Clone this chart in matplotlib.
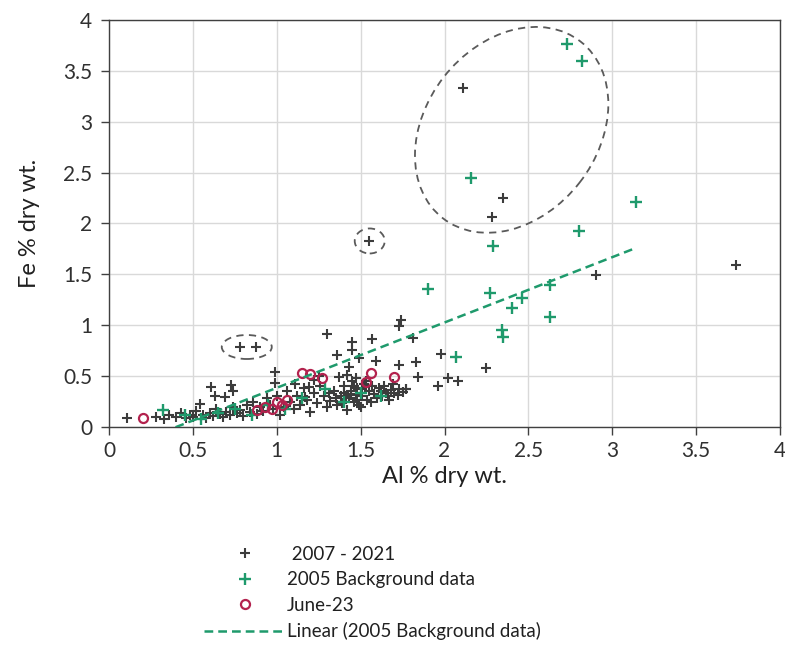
import matplotlib
matplotlib.use("Agg")
import matplotlib.pyplot as plt
import numpy as np
from matplotlib.patches import Ellipse
from matplotlib.transforms import ScaledTranslation

plt.rcParams['font.family'] = ['Lato', 'DejaVu Sans']

# ---- data ----
black_x = [2.11, 2.35, 2.28, 1.55, 3.74, 2.90, 0.78, 0.875,
           2.25, 2.08, 2.02, 1.96, 1.98,
           1.30, 1.74, 1.73, 1.45, 1.45, 1.57, 1.81, 1.36, 1.49, 1.59, 1.73, 1.83, 1.84, 1.43, 1.42, 1.37, 1.77,
           0.99, 0.99, 0.61, 0.73, 0.74, 0.69, 0.63, 0.54, 1.19, 0.11,
           0.28, 0.33, 0.36, 0.40, 0.43, 0.46, 0.48, 0.50, 0.52, 0.56, 0.58, 0.60, 0.62, 0.64, 0.66, 0.68,
           0.70, 0.72, 0.74, 0.76, 0.78, 0.80, 0.82, 0.84, 0.86, 0.88, 0.90, 0.92, 0.94, 0.96, 0.98,
           1.00, 1.02, 1.04, 1.06, 1.08, 1.10, 1.12, 1.14, 1.16, 1.18, 1.20, 1.22, 1.24, 1.26, 1.28,
           1.30, 1.32, 1.34, 1.36, 1.38, 1.40, 1.42, 1.43, 1.44, 1.45, 1.46, 1.47, 1.48, 1.49, 1.50,
           1.51, 1.52, 1.54, 1.55, 1.56, 1.58, 1.60, 1.62, 1.63, 1.65, 1.66, 1.68, 1.70, 1.72, 1.73,
           1.75, 1.77, 1.53, 1.47, 1.41, 1.39, 1.64, 1.69, 1.22, 1.17, 1.25, 1.11,
           1.44, 1.48, 1.46, 1.51, 1.35, 1.57, 1.61, 1.67, 1.40, 1.31]
black_y = [3.33, 2.25, 2.06, 1.83, 1.59, 1.49, 0.79, 0.79,
           0.58, 0.45, 0.48, 0.40, 0.72,
           0.91, 1.05, 0.99, 0.84, 0.76, 0.86, 0.87, 0.71, 0.68, 0.65, 0.61, 0.64, 0.49, 0.59, 0.51, 0.49, 0.37,
           0.54, 0.43, 0.39, 0.41, 0.35, 0.29, 0.30, 0.23, 0.39, 0.09,
           0.10, 0.08, 0.12, 0.10, 0.14, 0.09, 0.12, 0.10, 0.16, 0.12, 0.09, 0.14, 0.11, 0.18, 0.13, 0.10,
           0.15, 0.12, 0.20, 0.14, 0.17, 0.11, 0.22, 0.15, 0.25, 0.13, 0.20, 0.16, 0.28, 0.22, 0.18,
           0.30, 0.12, 0.20, 0.35, 0.25, 0.18, 0.30, 0.22, 0.38, 0.27, 0.15, 0.33, 0.24, 0.40, 0.30,
           0.20, 0.26, 0.35, 0.22, 0.30, 0.40, 0.17, 0.28, 0.35, 0.45, 0.25, 0.32, 0.38, 0.22, 0.20,
           0.30, 0.42, 0.27, 0.35, 0.25, 0.32, 0.28, 0.35, 0.30, 0.33, 0.30, 0.36, 0.33, 0.31, 0.37,
           0.34, 0.37, 0.45, 0.48, 0.30, 0.24, 0.40, 0.42, 0.46, 0.29, 0.50, 0.42,
           0.31, 0.27, 0.40, 0.37, 0.28, 0.40, 0.38, 0.27, 0.33, 0.33]

green_x = [2.73, 2.82, 2.155, 3.14, 2.29, 2.80, 1.90, 2.27, 2.46, 2.40, 2.63, 2.63, 2.34, 2.35, 2.07,
           0.32, 0.45, 0.55, 0.65, 0.75, 0.85, 0.95, 1.05, 1.15, 1.29, 1.40, 1.50, 1.62]
green_y = [3.76, 3.60, 2.45, 2.21, 1.78, 1.93, 1.36, 1.32, 1.27, 1.17, 1.40, 1.08, 0.95, 0.88, 0.69,
           0.17, 0.12, 0.08, 0.14, 0.18, 0.12, 0.22, 0.18, 0.28, 0.37, 0.25, 0.33, 0.30]

red_x = [0.20, 0.88, 0.93, 0.97, 1.00, 1.03, 1.06, 1.15, 1.20, 1.27, 1.53, 1.56, 1.70]
red_y = [0.09, 0.17, 0.20, 0.18, 0.25, 0.22, 0.27, 0.53, 0.52, 0.48, 0.44, 0.53, 0.49]

# linear trendline of the 2005 background data (slope / intercept)
trend_slope = 0.642
trend_intercept = -0.257

ticks = [0, 0.5, 1, 1.5, 2, 2.5, 3, 3.5, 4]
tick_labels = ['0', '0.5', '1', '1.5', '2', '2.5', '3', '3.5', '4']

# ---- figure ----
fig = plt.figure(figsize=(7.85, 6.5), dpi=100)
ax = fig.add_axes([0.1389, 0.3431, 0.8548, 0.6262])

c_black = '#3c3c3c'
c_green = '#1f9a6c'
c_red = '#b3224e'

ax.plot(black_x, black_y, linestyle='none', marker='+', color=c_black,
        markersize=7, markeredgewidth=1.5, label=' 2007 - 2021', zorder=3)
ax.plot(green_x, green_y, linestyle='none', marker='+', color=c_green,
        markersize=8, markeredgewidth=1.7, label='2005 Background data', zorder=4)
ax.plot(red_x, red_y, linestyle='none', marker='o', markerfacecolor='none',
        markeredgecolor=c_red, markersize=6.5, markeredgewidth=1.6, label='June-23', zorder=5)

tx = np.array([min(green_x), max(green_x)])
ax.plot(tx, trend_slope * tx + trend_intercept, linestyle=(0, (3.5, 2)), color=c_green,
        linewidth=1.8, label='Linear (2005 Background data)', zorder=6)

# dashed highlight ellipses (centre in data units, size in inches)
def ring(cx, cy, w, h, ang):
    e = Ellipse((0, 0), w, h, angle=ang, fill=False, edgecolor='#5a5a5a',
                linestyle=(0, (4, 3)), linewidth=1.3,
                transform=fig.dpi_scale_trans + ScaledTranslation(cx, cy, ax.transData),
                zorder=7)
    ax.add_patch(e)

ring(2.40, 2.92, 2.24, 1.72, 52)
ring(1.554, 1.828, 0.30, 0.25, 0)
ring(0.821, 0.786, 0.50, 0.24, 0)

ax.set_xlim(0, 4)
ax.set_ylim(0, 4)
ax.set_xticks(ticks)
ax.set_xticklabels(tick_labels)
ax.set_yticks(ticks)
ax.set_yticklabels(tick_labels)
ax.grid(True, color='#d9d9d9', linewidth=1.0, zorder=0)
ax.set_axisbelow(True)
for s in ax.spines.values():
    s.set_color('#404040')
    s.set_linewidth(1.0)
ax.tick_params(direction='out', length=6, width=1, color='#404040',
               labelsize=15, labelcolor='#303030', pad=4)
ax.tick_params(axis='y', pad=6)

ax.set_xlabel('Al % dry wt.', fontsize=17, color='#202020')
ax.set_ylabel('Fe % dry wt.', fontsize=17, color='#202020')
ax.xaxis.set_label_coords(0.5, -0.095)
ax.yaxis.set_label_coords(-0.103, 0.5)

leg = fig.legend(loc='upper left', bbox_to_anchor=(0.25, 0.172), frameon=False,
                 fontsize=13.5, handlelength=4.4, handletextpad=0.05,
                 labelspacing=0.45, borderaxespad=0)
for t in leg.get_texts():
    t.set_color('#202020')

fig.savefig('out.png', dpi=100)
